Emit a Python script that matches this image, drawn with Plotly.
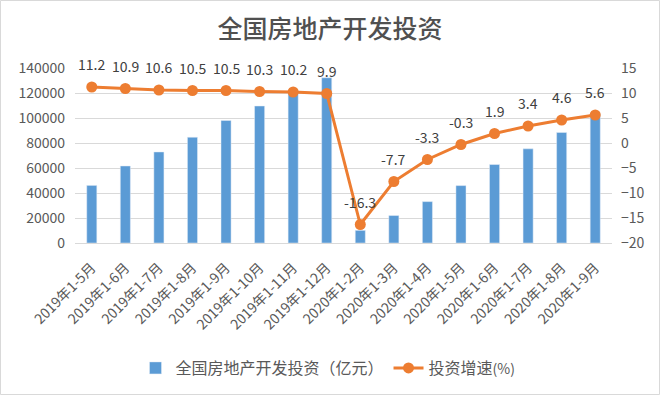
import plotly.graph_objects as go

categories = ["2019年1-5月", "2019年1-6月", "2019年1-7月", "2019年1-8月", "2019年1-9月",
              "2019年1-10月", "2019年1-11月", "2019年1-12月", "2020年1-2月", "2020年1-3月",
              "2020年1-4月", "2020年1-5月", "2020年1-6月", "2020年1-7月", "2020年1-8月", "2020年1-9月"]
investment = [46075, 61609, 72843, 84589, 98008, 109603, 121265, 132194,
              10115, 21963, 33103, 45920, 62780, 75325, 88454, 103484]
growth = [11.2, 10.9, 10.6, 10.5, 10.5, 10.3, 10.2, 9.9,
          -16.3, -7.7, -3.3, -0.3, 1.9, 3.4, 4.6, 5.6]

FONT = "Noto Sans CJK SC"
GRAY = "#595959"

fig = go.Figure()
fig.add_trace(go.Bar(x=categories, y=investment, name="全国房地产开发投资（亿元）",
                     marker_color="#5B9BD5", yaxis="y"))
fig.add_trace(go.Scatter(x=categories, y=growth,
                         name="投资增速<span style='font-size:14px'>(%)</span>",
                         mode="lines+markers",
                         line=dict(color="#ED7D31", width=3),
                         marker=dict(color="#ED7D31", size=11), yaxis="y2"))

for c, g in zip(categories, growth):
    fig.add_annotation(x=c, y=g, xref="x", yref="y2", text=f"{g}", showarrow=False,
                       yshift=23, font=dict(family=FONT, size=14, color="#404040"))

W, H = 537, 175
fig.add_shape(type="rect", xref="paper", yref="paper",
              x0=-74.5/W, x1=(W + 47.5)/W, y0=-151.5/H, y1=(H + 67.5)/H,
              line=dict(color="#D9D9D9", width=1), fillcolor="rgba(0,0,0,0)", layer="below")

fig.update_layout(
    width=660, height=395,
    margin=dict(l=75, r=48, t=68, b=152, autoexpand=False),
    paper_bgcolor="white", plot_bgcolor="white",
    title=dict(text="全国房地产开发投资", x=0.5, xanchor="center", y=1 - 29/395, yanchor="middle",
               font=dict(family=FONT, size=25, color="#505050", weight=500)),
    font=dict(family=FONT, color=GRAY),
    bargap=0.7,
    showlegend=True,
    legend=dict(orientation="h", x=(328 - 75)/W, xanchor="center", y=-(368 - 243)/H,
                yanchor="middle", font=dict(family=FONT, size=16, color=GRAY)),
    xaxis=dict(range=[-0.5, len(categories) - 0.5], tickangle=-45,
               tickfont=dict(size=14, color=GRAY), showgrid=False, ticklabelstandoff=10,
               showline=True, linecolor="#D9D9D9", ticks="", automargin=False),
    yaxis=dict(range=[0, 140000], dtick=20000, tickformat="d", showgrid=True,
               gridcolor="#D9D9D9", zeroline=False, tickfont=dict(size=14, color=GRAY),
               ticklabelstandoff=9, automargin=False),
    yaxis2=dict(range=[-20, 15], dtick=5, overlaying="y", side="right", showgrid=False,
                zeroline=False, tickfont=dict(size=14, color=GRAY),
                ticklabelstandoff=8, automargin=False),
)

fig.write_html("out.html", config={"displayModeBar": False},
               post_script="document.body.style.margin='0';")
